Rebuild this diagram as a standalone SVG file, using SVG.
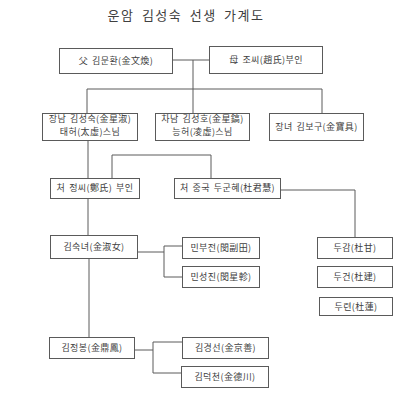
<svg xmlns="http://www.w3.org/2000/svg" width="400" height="402" viewBox="0 0 400 402">
<style>
.bg{fill:#ffffff}
.box{fill:#ffffff;stroke:#5a5a5a;stroke-width:1}
.t{font-family:"Noto Sans CJK KR","Noto Sans CJK SC",sans-serif;font-size:9px;fill:#404040;text-anchor:middle;letter-spacing:0.4px;word-spacing:1.5px}
.title{font-family:"Noto Sans CJK KR",sans-serif;font-size:13px;fill:#404040;text-anchor:middle;letter-spacing:1.5px;word-spacing:3px}
.ln{fill:none;stroke:#5a5a5a;stroke-width:1}
</style>
<rect class="bg" x="0" y="0" width="400" height="402"/>
<text class="title" x="186" y="20">운암 김성숙 선생 가계도</text>
<g id="connectors">
<path class="ln" d="M172,60H209M193,60V113M87,89H322M87,89V113M322,89V113"/>
<path class="ln" d="M88,140V178M112,178V155H211V178"/>
<path class="ln" d="M280,190H355V237"/>
<path class="ln" d="M88,198V235M89,258V337"/>
<path class="ln" d="M137,252H164M164,246V277M164,246H182M164,277H182"/>
<path class="ln" d="M134,350H153M153,342V373M153,342H182M153,373H181"/>
</g>
<g id="father"><rect class="box" x="59.5" y="48.5" width="113" height="25"/><text class="t" x="116" y="64">父 김문환(金文煥)</text></g>
<g id="mother"><rect class="box" x="209.5" y="46.5" width="113" height="27"/><text class="t" x="266" y="63">母 조씨(趙氏)부인</text></g>
<g id="son1"><rect class="box" x="42.5" y="113.5" width="95" height="27"/><text class="t" x="90" y="122">장남 김성숙(金星淑)</text><text class="t" x="90" y="135">태허(太虛)스님</text></g>
<g id="son2"><rect class="box" x="155.5" y="113.5" width="94" height="27"/><text class="t" x="202.5" y="122">차남 김성호(金星鎬)</text><text class="t" x="202.5" y="135">능허(凌虛)스님</text></g>
<g id="daughter1"><rect class="box" x="269.5" y="113.5" width="94" height="27"/><text class="t" x="316.5" y="130">장녀 김보구(金寶具)</text></g>
<g id="wife1"><rect class="box" x="50.5" y="178.5" width="89" height="20"/><text class="t" x="95" y="191">처 정씨(鄭氏) 부인</text></g>
<g id="wife2"><rect class="box" x="174.5" y="178.5" width="106" height="20"/><text class="t" x="227.5" y="191">처 중국 두군혜(杜君慧)</text></g>
<g id="kimsuknyeo"><rect class="box" x="50.5" y="235.5" width="87" height="23"/><text class="t" x="94" y="250">김숙녀(金淑女)</text></g>
<g id="minbujeon"><rect class="box" x="182.5" y="237.5" width="77" height="21"/><text class="t" x="221" y="251">민부전(閔副田)</text></g>
<g id="minseongjin"><rect class="box" x="182.5" y="266.5" width="77" height="21"/><text class="t" x="221" y="280">민성진(閔星軫)</text></g>
<g id="dugam"><rect class="box" x="317.5" y="237.5" width="75" height="21"/><text class="t" x="355" y="251">두감(杜甘)</text></g>
<g id="dugeon"><rect class="box" x="317.5" y="266.5" width="75" height="21"/><text class="t" x="355" y="280">두건(杜建)</text></g>
<g id="duryeon"><rect class="box" x="319.5" y="297.5" width="73" height="18"/><text class="t" x="356" y="310">두련(杜蓮)</text></g>
<g id="kimjeongbong"><rect class="box" x="49.5" y="337.5" width="85" height="21"/><text class="t" x="92" y="351">김정봉(金鼎鳳)</text></g>
<g id="kimgyeongseon"><rect class="box" x="182.5" y="337.5" width="86" height="21"/><text class="t" x="225.5" y="351">김경선(金京善)</text></g>
<g id="kimdeokcheon"><rect class="box" x="181.5" y="366.5" width="87" height="21"/><text class="t" x="225" y="380">김덕천(金德川)</text></g>
</svg>
